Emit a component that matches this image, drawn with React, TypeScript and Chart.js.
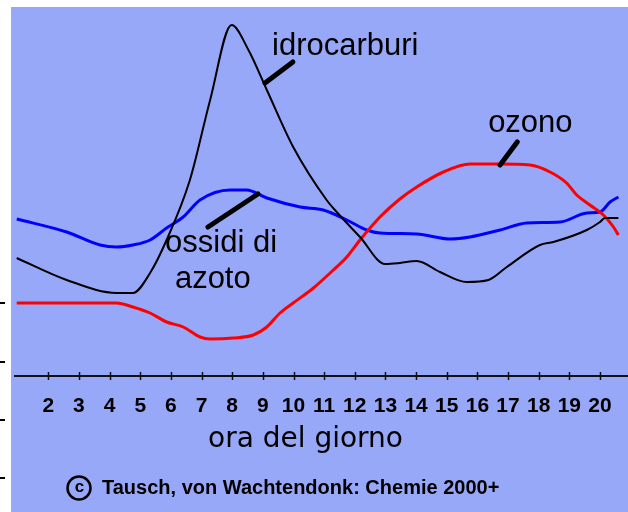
import React, { useEffect, useRef } from 'react';
import { Chart, registerables } from 'chart.js';

Chart.register(...registerables);

// ---- data (hour of day, relative concentration) ----
const tickHours = [2, 3, 4, 5, 6, 7, 8, 9, 10, 11, 12, 13, 14, 15, 16, 17, 18, 19, 20];

const hcHours = [0.97, 2.6, 4.23, 4.76, 5.32, 5.86, 6.62, 7.28, 7.98, 8.53, 9.13, 9.99, 11.08, 11.41, 12.17, 12.99, 13.47, 14.02, 14.78, 15.65, 16.36, 16.96, 18.04, 18.48, 19.57, 20.0, 20.16, 20.6];
const hcValues = [118, 96, 83, 83, 103, 136, 196, 276, 351, 326, 286, 229, 176, 164, 139, 112, 113, 115, 104, 94, 96, 109, 131, 134, 146, 154, 158, 158];

const noxHours = [0.97, 2.6, 3.69, 4.23, 4.76, 5.32, 5.86, 6.4, 6.95, 7.93, 8.47, 9.13, 10.22, 10.97, 11.74, 12.39, 12.82, 14.02, 15.11, 15.76, 16.74, 17.61, 18.7, 19.57, 20.0, 20.33, 20.6];
const noxValues = [157, 144, 131, 129, 131, 136, 148, 159, 176, 186, 186, 178, 169, 166, 156, 146, 143, 142, 137, 139, 146, 153, 154, 163, 164, 174, 179];

const o3Hours = [0.97, 4.23, 4.76, 5.32, 5.86, 6.4, 6.95, 7.28, 8.04, 8.69, 9.13, 9.56, 9.99, 10.65, 11.3, 11.74, 12.17, 12.82, 13.47, 14.02, 14.89, 15.76, 16.74, 17.72, 18.37, 18.91, 19.24, 19.67, 20.11, 20.44, 20.6];
const o3Values = [73, 73, 69, 63, 54, 49, 39, 37, 38, 41, 49, 63, 73, 88, 106, 119, 136, 159, 177, 189, 204, 212, 212, 211, 204, 193, 181, 171, 161, 149, 141];

const seriesNames = ['idrocarburi', 'ossidi di azoto', 'ozono'];
const axisTitle = 'ora del giorno';
const copyrightText = 'Tausch, von Wachtendonk: Chemie 2000+';

// label anchors in data units: [hour, value]
const hcLabel = { text: ['idrocarburi'], at: [9.3, 321], lead: [[9.07, 293], [9.98, 314]] };
const noxLabel = { text: ['ossidi di', 'azoto'], at: [5.81, 124.3], at2: [6.13, 88], lead: [[7.21, 149], [8.84, 182]] };
const o3Label = { text: ['ozono'], at: [16.35, 244], lead: [[16.74, 211], [17.3, 234]] };
const sideMarks = [72.7, 14.3, -44, -102.3];

const BG = '#98a8f8';

const toXY = (hs: number[], vs: number[]) => hs.map((h, i) => ({ x: h, y: vs[i] }));

const decorPlugin = {
  id: 'decor',
  beforeDraw(chart: any) {
    const { ctx, width, height } = chart;
    ctx.save();
    ctx.fillStyle = '#ffffff';
    ctx.fillRect(0, 0, width, height);
    ctx.fillStyle = BG;
    ctx.fillRect(11, 7, width - 11, height - 7);
    const y = chart.scales.y;
    ctx.fillStyle = '#000';
    sideMarks.forEach((v) => {
      const py = Math.round(y.getPixelForValue(v));
      ctx.fillRect(0, py - 1, 5, 2);
    });
    ctx.restore();
  },
  afterDraw(chart: any) {
    const { ctx, chartArea } = chart;
    const x = chart.scales.x;
    const y = chart.scales.y;
    const px = (h: number) => x.getPixelForValue(h);
    const py = (v: number) => y.getPixelForValue(v);
    ctx.save();
    // tick marks crossing the axis
    ctx.strokeStyle = '#111';
    ctx.lineWidth = 1.5;
    x.ticks.forEach((t: any) => {
      const p = Math.round(px(t.value)) + 0.5;
      ctx.beginPath();
      ctx.moveTo(p, chartArea.bottom - 4);
      ctx.lineTo(p, chartArea.bottom + 4);
      ctx.stroke();
    });
    // leader lines
    ctx.strokeStyle = '#000';
    ctx.lineWidth = 5;
    ctx.lineCap = 'round';
    [hcLabel.lead, noxLabel.lead, o3Label.lead].forEach((l) => {
      ctx.beginPath();
      ctx.moveTo(px(l[0][0]), py(l[0][1]));
      ctx.lineTo(px(l[1][0]), py(l[1][1]));
      ctx.stroke();
    });
    // series labels
    ctx.fillStyle = '#000';
    ctx.textAlign = 'left';
    ctx.textBaseline = 'alphabetic';
    ctx.font = '31px "Liberation Sans", Arial, sans-serif';
    ctx.fillText(hcLabel.text[0], px(hcLabel.at[0]), py(hcLabel.at[1]));
    ctx.fillText(o3Label.text[0], px(o3Label.at[0]), py(o3Label.at[1]));
    ctx.fillText(noxLabel.text[0], px(noxLabel.at[0]), py(noxLabel.at[1]));
    ctx.fillText(noxLabel.text[1], px(noxLabel.at2[0]), py(noxLabel.at2[1]));
    // axis title
    ctx.textAlign = 'center';
    ctx.font = '28px "DejaVu Sans", sans-serif';
    ctx.fillText(axisTitle, 305.5, 447);
    // copyright
    ctx.lineWidth = 2.5;
    ctx.beginPath();
    ctx.arc(79, 488, 11.5, 0, Math.PI * 2);
    ctx.stroke();
    ctx.font = 'bold 17px "Liberation Sans", Arial, sans-serif';
    ctx.textBaseline = 'middle';
    ctx.fillText('c', 79.5, 487);
    ctx.textAlign = 'left';
    ctx.textBaseline = 'alphabetic';
    ctx.font = 'bold 20px "Liberation Sans", Arial, sans-serif';
    ctx.fillText(copyrightText, 102, 494);
    ctx.restore();
  },
};

export default function App() {
  const ref = useRef<HTMLCanvasElement | null>(null);
  useEffect(() => {
    if (!ref.current) return;
    const chart = new Chart(ref.current, {
      type: 'line',
      data: {
        datasets: [
          { label: seriesNames[0], data: toXY(hcHours, hcValues), borderColor: '#000000', borderWidth: 2, pointRadius: 0, cubicInterpolationMode: 'monotone', order: 0 },
          { label: seriesNames[1], data: toXY(noxHours, noxValues), borderColor: '#0000ff', borderWidth: 3, pointRadius: 0, cubicInterpolationMode: 'monotone', order: 2 },
          { label: seriesNames[2], data: toXY(o3Hours, o3Values), borderColor: '#ff0000', borderWidth: 3, pointRadius: 0, cubicInterpolationMode: 'monotone', order: 1 },
        ],
      },
      options: {
        animation: false,
        responsive: false,
        devicePixelRatio: 1,
        layout: { padding: { left: 15, top: 7, right: 0, bottom: 0 } },
        plugins: { legend: { display: false }, tooltip: { enabled: false } },
        scales: {
          x: {
            type: 'linear',
            position: 'bottom',
            min: 0.9135,
            max: 20.9135,
            afterBuildTicks: (scale: any) => {
              scale.ticks = tickHours.map((h) => ({ value: h }));
            },
            afterFit: (scale: any) => {
              scale.height = 136;
            },
            grid: { display: false },
            border: { display: true, color: '#111', width: 2 },
            ticks: {
              autoSkip: false,
              maxRotation: 0,
              padding: 9.5,
              color: '#000',
              font: { family: '"Liberation Sans", Arial, sans-serif', size: 21, weight: 'bold' },
              callback: (v: any) => String(v),
            },
          },
          y: {
            display: false,
            min: 0,
            max: 369,
          },
        },
      },
      plugins: [decorPlugin],
    });
    return () => chart.destroy();
  }, []);
  return (
    <div style={{ position: 'absolute', left: 0, top: 0, width: 628, height: 512 }}>
      <canvas ref={ref} width={628} height={512} style={{ width: 628, height: 512, display: 'block' }} />
    </div>
  );
}
